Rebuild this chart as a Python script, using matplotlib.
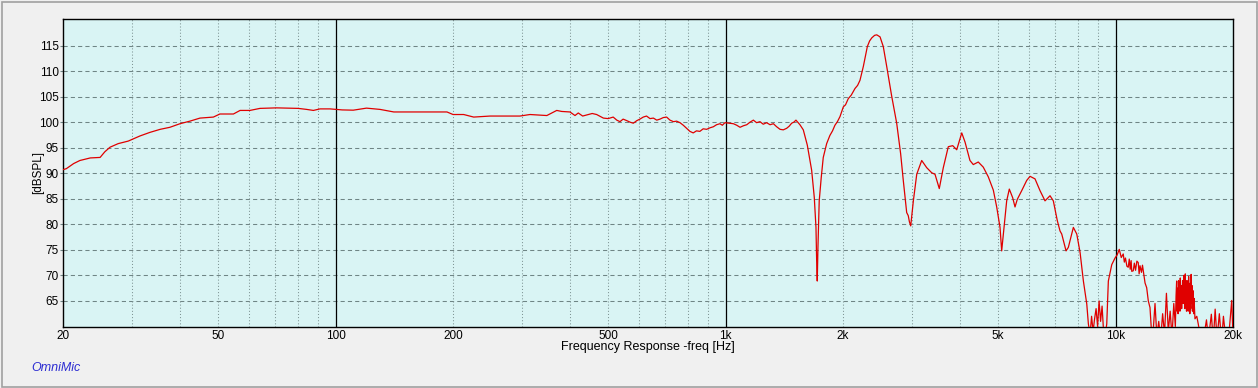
import matplotlib
matplotlib.use("Agg")
import matplotlib.pyplot as plt
from matplotlib.patches import Rectangle

plt.rcParams['font.family'] = ['Liberation Sans', 'DejaVu Sans']

# frequency response
freq_hz = [
    20.0, 20.4, 21.3, 22.1, 23.5, 24.9, 25.6, 26.4, 27.7, 29.4,
    31.5, 33.4, 35.5, 37.6, 39.9, 42.3, 44.9, 48.6, 50.5, 54.7,
    56.9, 60.3, 64.0, 70.6, 80.2, 84.3, 87.7, 91.2, 96.8, 104,
    111, 120, 130, 141, 158, 193, 200, 213, 226, 249,
    280, 297, 315, 348, 369, 380, 399, 411, 419, 430,
    440, 455, 467, 486, 500, 515, 526, 536, 546, 558,
    569, 580, 592, 603, 615, 627, 640, 653, 666, 679,
    692, 706, 720, 735, 749, 764, 779, 794, 810, 826,
    842, 859, 876, 894, 912, 930, 948, 967, 981, 996,
    1020, 1047, 1068, 1089, 1111, 1133, 1155, 1178, 1201, 1225,
    1249, 1274, 1300, 1326, 1352, 1379, 1406, 1434, 1455, 1477,
    1496, 1515, 1551, 1582, 1620, 1662, 1688, 1705, 1712, 1718,
    1725, 1738, 1759, 1780, 1798, 1816, 1851, 1880, 1907, 1935,
    1965, 2004, 2030, 2063, 2100, 2147, 2180, 2211, 2255, 2309,
    2340, 2370, 2410, 2441, 2489, 2537, 2589, 2666, 2746, 2811,
    2855, 2913, 2940, 2960, 2983, 3030, 3091, 3183, 3278, 3376,
    3443, 3531, 3616, 3724, 3823, 3914, 4032, 4111, 4232, 4316,
    4445, 4578, 4716, 4858, 4956, 5054, 5104, 5174, 5257, 5339,
    5447, 5522, 5597, 5745, 5917, 6034, 6214, 6400, 6592, 6790,
    6923, 7089, 7203, 7276, 7464, 7566, 7793, 7951, 8108, 8268,
    8435, 8515, 8601, 8678, 8755, 8833, 8912, 8991, 9071, 9152,
    9233, 9315, 9398, 9491, 9581, 9775, 9966, 10090, 10218, 10340,
    10461, 10530, 10600, 10690, 10774, 10840, 10900, 10960, 11000, 11098,
    11170, 11250, 11340, 11430, 11490, 11550, 11650, 11720, 11776, 11900,
    12014, 12130, 12252, 12360, 12470, 12620, 12760, 12900, 13050, 13200,
    13350, 13500, 13650, 13800, 13950, 14100, 14230, 14290, 14339, 14380,
    14420, 14460, 14500, 14540, 14580, 14620, 14650, 14690, 14730, 14770,
    14800, 14850, 14912, 14950, 14980, 15020, 15050, 15090, 15120, 15160,
    15200, 15240, 15280, 15320, 15350, 15390, 15430, 15470, 15500, 15540,
    15580, 15620, 15668, 15710, 15740, 15800, 15850, 15890, 15978, 16150,
    16290, 16500, 16800, 17100, 17300, 17600, 17800, 18000, 18200, 18450,
    18700, 18900, 19200, 19500, 19850, 20000,
]
spl_db = [
    90.7, 90.9, 91.9, 92.5, 93.0, 93.1, 94.2, 95.1, 95.8, 96.3,
    97.3, 98.0, 98.6, 99.0, 99.7, 100.2, 100.8, 101.0, 101.6, 101.6,
    102.3, 102.3, 102.7, 102.8, 102.7, 102.5, 102.3, 102.6, 102.6, 102.4,
    102.35, 102.75, 102.5, 102.0, 102.0, 102.0, 101.5, 101.5, 101.0, 101.2,
    101.2, 101.2, 101.5, 101.3, 102.3, 102.1, 102.0, 101.3, 101.8, 101.2,
    101.4, 101.7, 101.5, 100.8, 100.7, 101.0, 100.4, 100.1, 100.6, 100.3,
    100.0, 99.8, 100.3, 100.6, 101.0, 101.2, 100.7, 100.8, 100.4, 100.6,
    100.9, 101.0, 100.4, 100.1, 100.2, 99.9, 99.4, 98.8, 98.2, 97.9,
    98.3, 98.2, 98.7, 98.6, 98.9, 99.1, 99.5, 99.7, 99.4, 99.9,
    99.8, 99.7, 99.4, 99.0, 99.3, 99.5, 100.0, 100.4, 99.9, 100.1,
    99.6, 99.9, 99.5, 99.7, 99.1, 98.6, 98.5, 98.8, 99.2, 99.8,
    100.0, 100.4, 99.5, 98.5, 95.5, 90.6, 85.3, 79.4, 72.8, 68.9,
    75.5, 84.6, 89.2, 93.1, 94.5, 95.8, 97.4, 98.3, 99.4, 100.1,
    101.1, 103.0, 103.4, 104.6, 105.3, 106.6, 107.2, 108.2, 110.9, 114.8,
    115.9, 116.5, 117.0, 117.1, 116.7, 114.8, 110.9, 105.1, 99.8, 93.8,
    88.6, 82.3, 81.7, 80.5, 79.7, 84.6, 89.8, 92.5, 91.1, 90.1,
    89.8, 87.0, 91.1, 95.2, 95.4, 94.6, 97.9, 96.1, 92.5, 91.7,
    92.2, 91.2, 89.3, 86.7, 83.4, 79.4, 74.8, 79.4, 84.6, 86.9,
    85.2, 83.4, 84.9, 86.6, 88.6, 89.4, 88.9, 86.6, 84.6, 85.6,
    84.6, 80.7, 78.7, 78.1, 74.8, 75.5, 79.4, 78.1, 74.5, 68.9,
    64.4, 60.5, 58.5, 62.0, 59.0, 61.5, 63.5, 60.0, 65.0, 61.0,
    64.0, 59.0, 58.0, 60.5, 68.9, 72.1, 73.4, 74.0, 75.1, 73.5,
    74.2, 72.6, 73.4, 71.8, 71.6, 73.2, 71.2, 72.9, 70.8, 70.9,
    72.4, 71.0, 72.8, 72.5, 70.3, 71.9, 70.6, 72.0, 70.9, 68.5,
    67.6, 65.0, 63.7, 59.0, 58.5, 64.5, 58.0, 61.0, 57.5, 62.5,
    58.5, 66.5, 59.0, 63.0, 58.0, 64.5, 60.0, 66.0, 68.9, 63.0,
    67.5, 62.5, 69.0, 64.0, 67.0, 63.0, 69.5, 64.5, 68.0, 63.5,
    66.0, 69.0, 64.5, 70.0, 65.0, 68.5, 63.5, 70.3, 64.0, 67.5,
    63.0, 69.0, 64.5, 68.0, 63.0, 69.8, 64.0, 67.5, 62.5, 68.5,
    63.5, 70.2, 64.5, 68.0, 63.0, 67.0, 62.5, 65.5, 61.5, 62.0,
    60.5, 58.0, 57.5, 61.3, 57.5, 62.4, 57.0, 63.4, 57.5, 62.5,
    57.0, 62.0, 57.0, 58.0, 65.1, 58.0,
]

tick_hz = [20, 50, 100, 200, 500, 1000, 2000, 5000, 10000, 20000]
tick_text = ['20', '50', '100', '200', '500', '1k', '2k', '5k', '10k', '20k']
decade_hz = [100, 1000, 10000]
minor_hz = [30, 40, 50, 60, 70, 80, 90,
            200, 300, 400, 500, 600, 700, 800, 900,
            2000, 3000, 4000, 5000, 6000, 7000, 8000, 9000]
y_ticks = [65, 70, 75, 80, 85, 90, 95, 100, 105, 110, 115]

W, H = 1258, 388
fig = plt.figure(figsize=(W / 100, H / 100), dpi=100, facecolor='#f0f0f0')
ax = fig.add_axes([63 / W, 1 - 327 / H, 1170 / W, 308 / H])
ax.set_facecolor('#d9f4f4')

ax.set_xscale('log')
ax.set_xlim(20, 20000)
ax.set_ylim(59.9, 120.2)

for y in y_ticks:
    ax.axhline(y, color='#6f8585', lw=0.75, ls=(0, (4, 3)), zorder=1)
for f in minor_hz:
    ax.axvline(f, color='#7f9595', lw=0.75, ls=(0, (1, 2)), zorder=1)
for f in decade_hz:
    ax.axvline(f, color='black', lw=0.9, zorder=1)

ax.plot(freq_hz, spl_db, color='#e00000', lw=0.9, zorder=3)

ax.set_xticks(tick_hz)
ax.set_xticklabels(tick_text)
ax.xaxis.set_minor_locator(matplotlib.ticker.NullLocator())
ax.set_yticks(y_ticks)
ax.tick_params(axis='x', length=0, pad=2, labelsize=8.5)
ax.tick_params(axis='y', length=2, pad=1, labelsize=8.5, color='#6f8585')
for s in ax.spines.values():
    s.set_color('black')
    s.set_linewidth(1.0)

fig.text(38 / W, 1 - 173 / H, '[dBSPL]', rotation=90, ha='center', va='center', fontsize=8.5)
fig.text(648 / W, 1 - 347 / H, 'Frequency Response -freq [Hz]', ha='center', va='center', fontsize=9)
fig.text(31 / W, 1 - 368 / H, 'OmniMic', style='italic', color='#2c2cd2', ha='left', va='center', fontsize=9)

fig.patches.append(Rectangle((1.5 / W, 1.5 / H), 1255 / W, 385 / H, transform=fig.transFigure,
                             fill=False, edgecolor='#a0a0a0', lw=1.2))

fig.savefig('out.png', dpi=100, facecolor=fig.get_facecolor())
